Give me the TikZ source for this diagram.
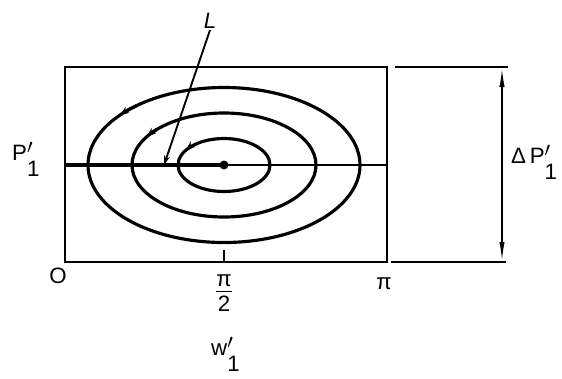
\documentclass[tikz,border=0pt]{standalone}
\usepackage{amsmath}
\usepackage{fontspec}
\setmainfont{Liberation Sans}
\usetikzlibrary{arrows.meta}
\newcommand{\primesub}[1]{#1\rlap{\raisebox{0.3em}{$\prime$}}\raisebox{-0.72em}{1}}
\newcommand{\halfpi}{$\genfrac{}{}{1.2pt}{}{\mbox{π}\rule[-0.12em]{0pt}{0.5em}}{\mbox{2}\rule{0pt}{0.8em}}$}

\begin{document}
\begin{tikzpicture}[x=0.03cm, y=-0.03cm, >=Stealth, font=\fontsize{19}{22}\selectfont,
		frame/.style={line width=1.6pt},
		orbit/.style={line width=2.7pt},
		dimarrow/.style={line width=1.5pt, {Latex[length=0.6cm,width=4.5pt]}-{Latex[length=0.6cm,width=4.5pt]}}]
		\useasboundingbox (0,0) rectangle (562,378);
		\coordinate (BL) at (65,262);
		\coordinate (TR) at (387,67);
		\coordinate (C) at (224,165);
		\draw[frame] (BL) rectangle (TR);
		\draw[frame] (C) -- (C -| TR);
		\draw[line width=3.2pt] (C -| BL) -- (C);
		\fill (C) circle (4.5);
		\draw[frame] (C |- BL) -- ++(0,-12);
		\foreach \rx/\ry/\s/\e in {46/26.5/-136/-146, 92/52/-137/-147, 136/77.5/-130/-140} {
			\draw[orbit] (C) ellipse [x radius=\rx, y radius=\ry];
			\draw[orbit, -{Stealth[length=8pt,width=6pt]}] (C) ++({\s}:{\rx} and {\ry}) arc[start angle=\s, end angle=\e, x radius=\rx, y radius=\ry];
		}
		\node[inner sep=1pt] (L) at (210,21) {\itshape L};
		\coordinate (Lend) at (164,165);
		\draw[frame, -{Stealth[length=8pt,width=5pt]}] (L.south) -- (Lend);
		\coordinate (DT) at (502,67);
		\coordinate (DB) at (502,262);
		\draw[frame] (395,67) -- (508,67);
		\draw[frame] (391,262) -- (506,262);
		\draw[dimarrow] (DT) -- (DB);
		\node[anchor=base west, inner sep=0pt] (P) at (12,160) {\primesub{P}};
		\node[anchor=base west, inner sep=0pt] (DP) at (511,163) {Δ\,\primesub{P}};
		\node (O) at (58,276) {O};
		\node (half) at (224,293) {\halfpi};
		\node (pi) at (384,284) {π};
		\node[anchor=base west, inner sep=0pt] (W) at (211,355) {\primesub{w}};
	\end{tikzpicture}
\end{document}
